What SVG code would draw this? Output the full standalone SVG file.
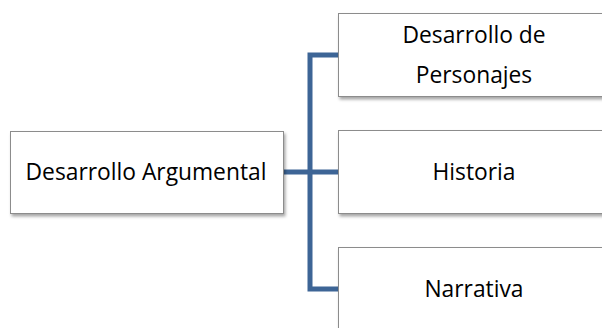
<svg xmlns="http://www.w3.org/2000/svg" width="602" height="328" viewBox="0 0 602 328">
  <defs>
    <filter id="shadow" x="-10%" y="-20%" width="130%" height="150%">
      <feDropShadow dx="1.5" dy="2.5" stdDeviation="1.8" flood-color="#000" flood-opacity="0.35"/>
    </filter>
  </defs>
  <style>
    .box { fill: #ffffff; stroke: #8c8c8c; stroke-width: 1; filter: url(#shadow); }
    .label { font-family: "Open Sans", "Liberation Sans", sans-serif; font-size: 22.8px; fill: #000; text-anchor: middle; }
    .conn { fill: none; stroke: #3d6596; stroke-width: 5; stroke-linejoin: miter; }
  </style>
  <rect width="602" height="328" fill="#ffffff"/>

  <g id="connectors">
    <path class="conn" d="M283,172 H338"/>
    <path class="conn" d="M338,55 H310 V289 H338"/>
  </g>

  <g id="root">
    <rect class="box" x="10.5" y="131.5" width="273" height="82"/>
    <text class="label" x="146" y="180">Desarrollo Argumental</text>
  </g>

  <g id="personajes">
    <rect class="box" x="338.5" y="13.5" width="280" height="83"/>
    <text class="label" x="474" y="43">Desarrollo de</text>
    <text class="label" x="474" y="83">Personajes</text>
  </g>

  <g id="historia">
    <rect class="box" x="338.5" y="130.5" width="280" height="83"/>
    <text class="label" x="474" y="180">Historia</text>
  </g>

  <g id="narrativa">
    <rect class="box" x="338.5" y="247.5" width="280" height="90"/>
    <text class="label" x="474" y="297">Narrativa</text>
  </g>
</svg>
